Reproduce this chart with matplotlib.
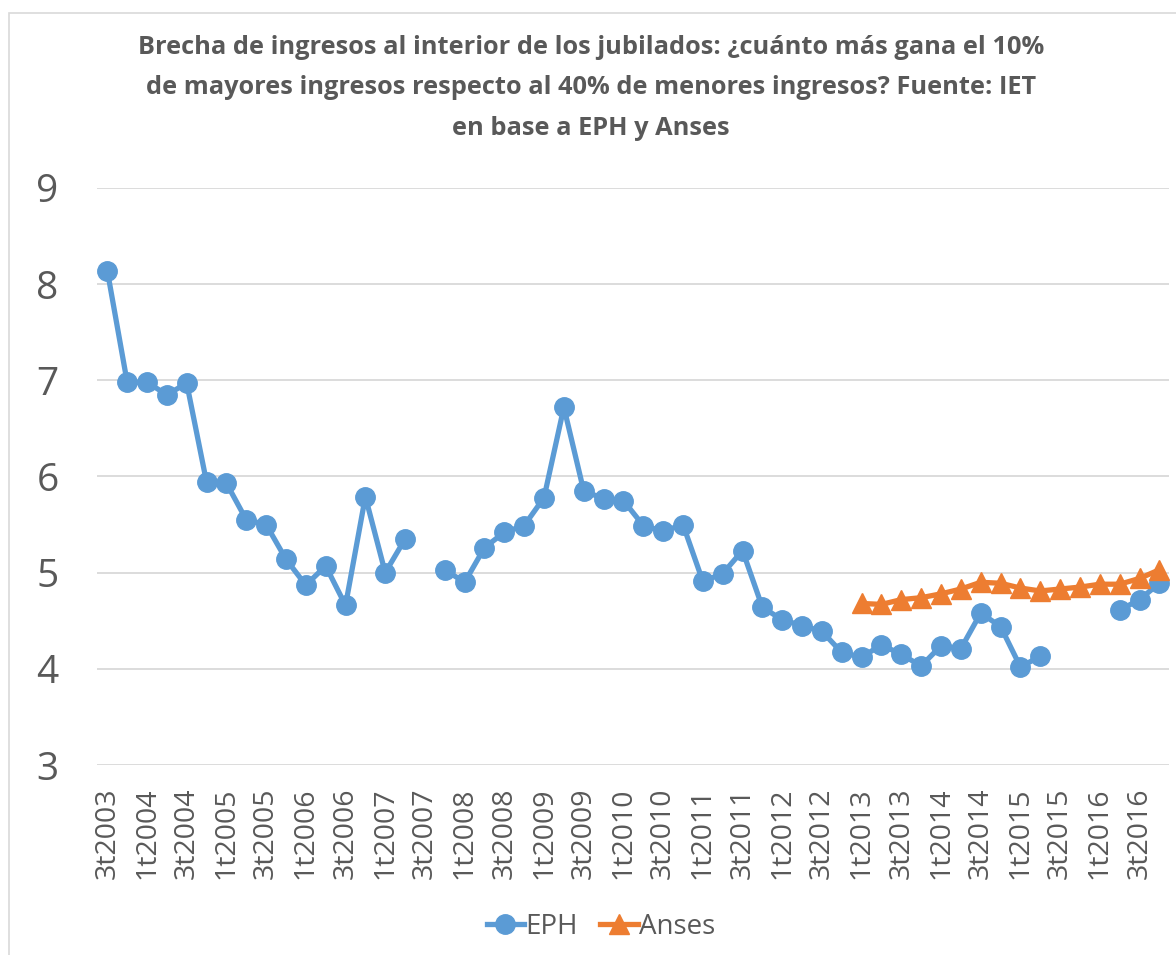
import numpy as np
import matplotlib
matplotlib.use("Agg")
import matplotlib.pyplot as plt
from matplotlib.patches import Rectangle
from matplotlib.lines import Line2D

quarters = [
    "3t2003", "4t2003",
    "1t2004", "2t2004", "3t2004", "4t2004",
    "1t2005", "2t2005", "3t2005", "4t2005",
    "1t2006", "2t2006", "3t2006", "4t2006",
    "1t2007", "2t2007", "3t2007", "4t2007",
    "1t2008", "2t2008", "3t2008", "4t2008",
    "1t2009", "2t2009", "3t2009", "4t2009",
    "1t2010", "2t2010", "3t2010", "4t2010",
    "1t2011", "2t2011", "3t2011", "4t2011",
    "1t2012", "2t2012", "3t2012", "4t2012",
    "1t2013", "2t2013", "3t2013", "4t2013",
    "1t2014", "2t2014", "3t2014", "4t2014",
    "1t2015", "2t2015", "3t2015", "4t2015",
    "1t2016", "2t2016", "3t2016", "4t2016",
]

nan = np.nan
eph = [
    8.14, 6.98,
    6.98, 6.85, 6.97, 5.94,
    5.93, 5.55, 5.50, 5.14,
    4.87, 5.07, 4.66, 5.79,
    5.00, 5.35, nan, 5.03,
    4.90, 5.26, 5.42, 5.49,
    5.78, 6.72, 5.85, 5.77,
    5.75, 5.49, 5.43, 5.50,
    4.91, 4.99, 5.23, 4.64,
    4.51, 4.45, 4.39, 4.17,
    4.12, 4.25, 4.15, 4.03,
    4.24, 4.21, 4.58, 4.44,
    4.02, 4.13, nan, nan,
    nan, 4.61, 4.72, 4.89,
]

anses = [nan] * 38 + [
    4.68, 4.67, 4.72, 4.74,
    4.78, 4.83, 4.90, 4.89,
    4.84, 4.81, 4.83, 4.85,
    4.88, 4.88, 4.94, 5.03,
]

yticks = [3, 4, 5, 6, 7, 8, 9]

title_lines = [
    "Brecha de ingresos al interior de los jubilados: ¿cuánto más gana el 10%",
    "de mayores ingresos respecto al 40% de menores ingresos? Fuente: IET",
    "en base a EPH y Anses",
]
title_baselines = [54.5, 94.5, 134.5]

BLUE = "#5B9BD5"
ORANGE = "#ED7D31"
TXT = "#595959"
GRID = "#D9D9D9"

W, H = 1176, 955
fig = plt.figure(figsize=(W / 100, H / 100), dpi=100)
fig.patch.set_facecolor("white")

# chart border
fig.patches.append(Rectangle((9 / W, -0.05), 1.2, 1 - 13.5 / H + 0.05,
                             transform=fig.transFigure, fill=False,
                             edgecolor="#D9D9D9", linewidth=1.2))

left, right = 97.4 / W, 1169.3 / W
bottom, top = 1 - 765 / H, 1 - 188 / H
ax = fig.add_axes([left, bottom, right - left, top - bottom])

x = np.arange(len(quarters))
ax.plot(x, eph, color=BLUE, linewidth=3.8, marker="o", markersize=14,
        markerfacecolor=BLUE, markeredgecolor=BLUE, solid_capstyle="round",
        label="EPH", zorder=3)
ax.plot(x, anses, color=ORANGE, linewidth=3.8, marker="^", markersize=15,
        markerfacecolor=ORANGE, markeredgecolor=ORANGE, solid_capstyle="round",
        label="Anses", zorder=4)

ax.set_xlim(-0.5, len(quarters) - 0.5)
ax.set_ylim(3, 9)
ax.set_yticks(yticks)
ax.set_xticks(x[::2])
ax.set_xticklabels(quarters[::2], rotation=90)

tick_font = ["Open Sans", "DejaVu Sans"]
for lbl in ax.get_xticklabels():
    lbl.set_fontfamily(tick_font)
    lbl.set_fontsize(20.5)
    lbl.set_color(TXT)
for lbl in ax.get_yticklabels():
    lbl.set_fontfamily(tick_font)
    lbl.set_fontsize(28)
    lbl.set_color(TXT)

ax.tick_params(axis="x", length=0, pad=16)
ax.tick_params(axis="y", length=0, pad=28)
ax.grid(axis="y", color=GRID, linewidth=1.3)
ax.set_axisbelow(True)
for s in ax.spines.values():
    s.set_visible(False)
ax.set_facecolor("none")

for line, yb in zip(title_lines, title_baselines):
    fig.text(591 / W, 1 - yb / H, line, ha="center", va="baseline",
             fontsize=18.3, fontweight="bold", color=TXT,
             family=["Open Sans", "DejaVu Sans"])

handles = [
    Line2D([], [], color=BLUE, linewidth=3.8, marker="o", markersize=14),
    Line2D([], [], color=ORANGE, linewidth=3.8, marker="^", markersize=15),
]
leg = fig.legend(handles, ["EPH", "Anses"], loc="center",
                 bbox_to_anchor=(601 / W, 1 - 927 / H), ncol=2, frameon=False,
                 handlelength=1.35, handletextpad=0.05, columnspacing=0.8,
                 prop={"family": tick_font, "size": 20})
for t in leg.get_texts():
    t.set_color(TXT)

fig.savefig("out.png", dpi=100, facecolor="white")
